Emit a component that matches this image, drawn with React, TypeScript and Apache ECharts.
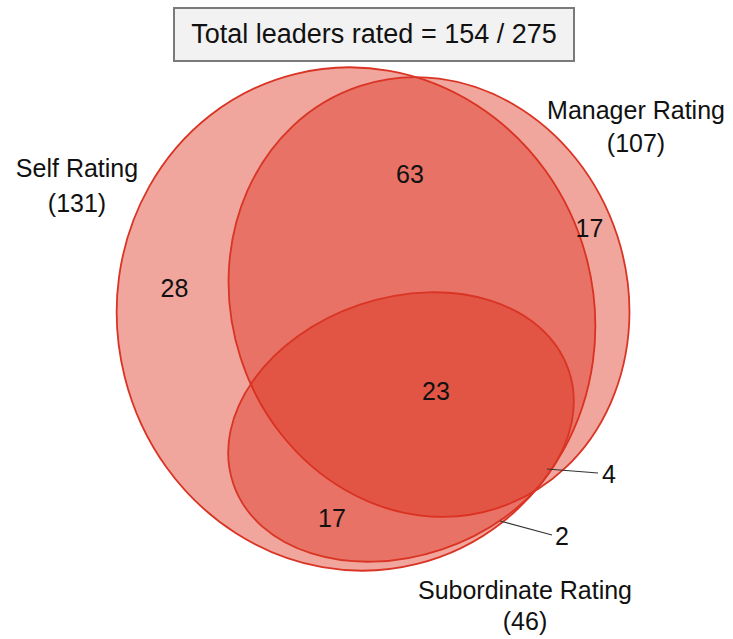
import React, { useEffect, useRef } from "react";
import * as echarts from "echarts";

// ---- data ----
const setNames = ["Self Rating", "Manager Rating", "Subordinate Rating"];
const setTotals = [131, 107, 46];
const regionNames = [
  "Self only",
  "Self & Manager",
  "Manager only",
  "All three",
  "Self & Subordinate",
  "Manager & Subordinate",
  "Subordinate only",
];
const regionCounts = [28, 63, 17, 23, 17, 4, 2];
const ratedLeaders = 154;
const totalLeaders = 275;

// ---- layout (data space = pixel space of the 733x639 canvas) ----
const W = 733;
const H = 639;
// cx, cy, rx, ry, rotation (deg, counter-clockwise)
const ellipseLayout = [
  [356, 319, 238.5, 252.5, 14],
  [429, 297, 198, 222, 18],
  [401, 427, 177, 129, 18.6],
];
const regionLabelPos = [
  [174.5, 288],
  [410, 174],
  [589.5, 228],
  [436, 391],
  [332, 518],
  [609, 474],
  [562, 536],
];
// leader lines for small regions (index into regions)
const leaderRegion = [5, 6];
const leaderLinePos = [
  [547, 469, 598, 473],
  [500, 521, 552, 535],
];
const setLabelPos = [
  [77, 168, 203],
  [636, 110, 143],
  [525, 590, 621],
];

const FONT = "'Liberation Sans', Arial, Helvetica, sans-serif";
const FILL = "rgba(220, 47, 28, 0.43)";
const STROKE = "#D93424";

export default function App() {
  const ref = useRef<HTMLDivElement>(null);

  useEffect(() => {
    if (!ref.current) return;
    const chart = echarts.init(ref.current, undefined, { renderer: "svg" });

    const ellipseData = ellipseLayout.map((e, i) => ({
      name: setNames[i],
      value: e,
    }));

    const textData: any[] = [];
    regionCounts.forEach((c, i) => {
      textData.push({
        name: regionNames[i],
        value: [regionLabelPos[i][0], regionLabelPos[i][1], String(c)],
      });
    });
    setNames.forEach((n, i) => {
      textData.push({
        name: n,
        value: [setLabelPos[i][0], setLabelPos[i][1], n],
      });
      textData.push({
        name: n + " total",
        value: [setLabelPos[i][0], setLabelPos[i][2], "(" + setTotals[i] + ")"],
      });
    });

    const lineData = leaderLinePos.map((l, i) => ({
      name: regionNames[leaderRegion[i]],
      value: l,
    }));

    const option: any = {
      animation: false,
      backgroundColor: "#ffffff",
      grid: { left: 0, right: 0, top: 0, bottom: 0 },
      xAxis: { type: "value", min: 0, max: W, show: false },
      yAxis: { type: "value", min: 0, max: H, inverse: true, show: false },
      graphic: [
        {
          type: "rect",
          left: 173,
          top: 7,
          shape: { x: 0, y: 0, width: 400, height: 53 },
          style: { fill: "#f2f2f2", stroke: "#7a7a7a", lineWidth: 2 },
          z: 10,
        },
        {
          type: "text",
          x: 374,
          y: 34,
          style: {
            text: `Total leaders rated = ${ratedLeaders} / ${totalLeaders}`,
            fontSize: 27,
            fontFamily: FONT,
            fill: "#111",
            align: "center",
            verticalAlign: "middle",
          },
          z: 11,
        },
      ],
      series: [
        {
          type: "custom",
          coordinateSystem: "cartesian2d",
          data: ellipseData,
          renderItem: (params: any, api: any) => {
            const c = api.coord([api.value(0), api.value(1)]);
            const s = api.size([api.value(2), api.value(3)]);
            return {
              type: "ellipse",
              x: c[0],
              y: c[1],
              rotation: (api.value(4) * Math.PI) / 180,
              shape: { cx: 0, cy: 0, rx: Math.abs(s[0]), ry: Math.abs(s[1]) },
              style: { fill: FILL, stroke: STROKE, lineWidth: 1.8 },
            };
          },
          z: 1,
        },
        {
          type: "custom",
          coordinateSystem: "cartesian2d",
          data: lineData,
          renderItem: (params: any, api: any) => {
            const p1 = api.coord([api.value(0), api.value(1)]);
            const p2 = api.coord([api.value(2), api.value(3)]);
            return {
              type: "line",
              shape: { x1: p1[0], y1: p1[1], x2: p2[0], y2: p2[1] },
              style: { stroke: "#333", lineWidth: 1.2 },
            };
          },
          z: 2,
        },
        {
          type: "custom",
          coordinateSystem: "cartesian2d",
          data: textData,
          dimensions: ["x", "y", { name: "t", type: "ordinal" }],
          renderItem: (params: any, api: any) => {
            const item = textData[params.dataIndex];
            const c = api.coord([item.value[0], item.value[1]]);
            return {
              type: "text",
              x: c[0],
              y: c[1],
              style: {
                text: item.value[2],
                fontSize: 25,
                fontFamily: FONT,
                fill: "#111",
                align: "center",
                verticalAlign: "middle",
              },
            };
          },
          z: 3,
        },
      ],
    };

    chart.setOption(option);
    return () => chart.dispose();
  }, []);

  return (
    <div
      ref={ref}
      style={{ position: "fixed", left: 0, top: 0, width: W, height: H }}
    />
  );
}
